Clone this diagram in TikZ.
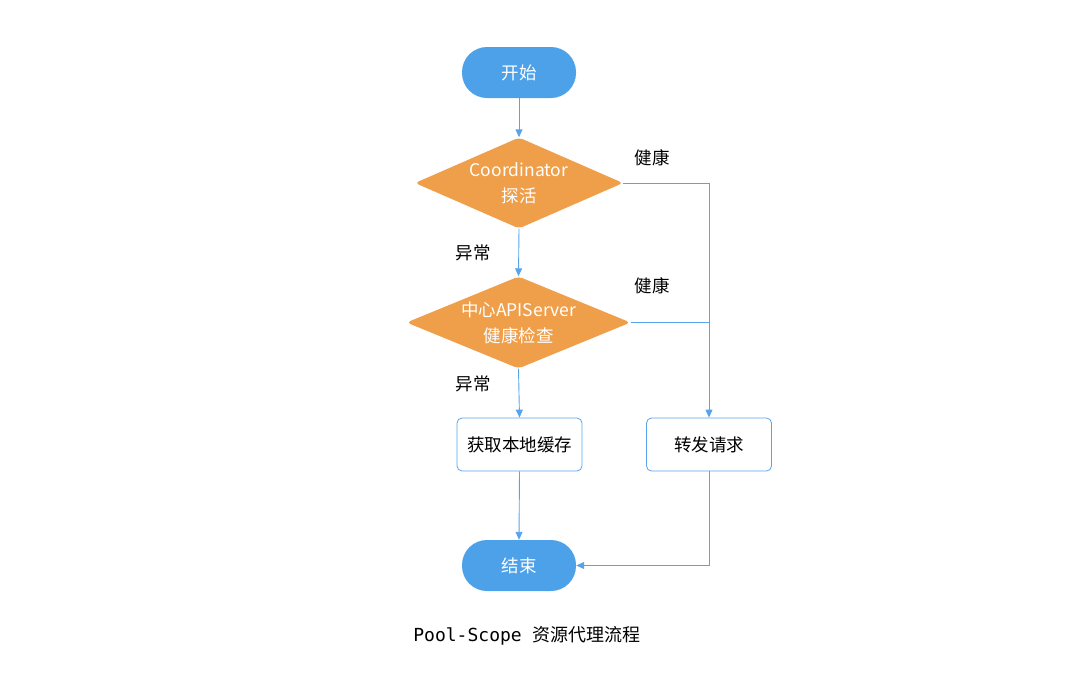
\documentclass[tikz,border=0pt]{standalone}
\usepackage{fontspec}
\setmainfont{Noto Sans CJK SC}
\newfontfamily\capmono{DejaVu Sans Mono}
\newfontfamily\capcjk{Noto Sans CJK SC}
\usetikzlibrary{shapes.geometric,arrows.meta}
\definecolor{pillblue}{RGB}{76,161,232}
\definecolor{diaorange}{RGB}{239,158,74}
\definecolor{lineblue}{RGB}{88,164,236}
\tikzset{
  pill/.style={draw=none,fill=pillblue,rounded corners=25pt,minimum width=114pt,minimum height=51pt,text=white,font=\fontsize{17.5}{20}\selectfont,inner sep=0pt},
  decision/.style={diamond,draw=none,fill=diaorange,minimum height=91pt,inner sep=0pt,aspect=2.3,rounded corners=4pt,text=white,align=center,font=\fontsize{17.5}{26}\selectfont},
  procbox/.style={draw=lineblue,line width=0.8pt,fill=white,rounded corners=5pt,minimum width=125pt,minimum height=53pt,inner sep=0pt,font=\fontsize{17.5}{20}\selectfont},
  conn/.style={draw=lineblue,line width=0.9pt},
  arr/.style={conn,-{Triangle[length=8pt,width=7pt]}},
  lbl/.style={font=\fontsize{17.5}{20}\selectfont,inner sep=0pt}
}
\begin{document}
\begin{tikzpicture}[x=1pt,y=-1pt]
\useasboundingbox (0,0) rectangle (1080,686);
\node[pill] (start) at (519,72.5) {开始};
\node[decision,minimum width=208pt] (d1) at (519,183) {Coordinator\\探活};
\node[decision,minimum width=224pt] (d2) at (518.5,322.5) {中心APIServer\\健康检查};
\node[procbox] (b1) at (519.5,444.5) {获取本地缓存};
\node[procbox] (b2) at (709,444.5) {转发请求};
\node[pill] (end) at (519,565.5) {结束};
\coordinate (j1) at (709,183);
\coordinate (j2) at (709,322.5);
\coordinate (j3) at (709,565.5);
\draw[arr] (start.south) -- (d1.north);
\draw[arr] (d1.south) -- (d2.north);
\draw[arr] (d2.south) -- (b1.north);
\draw[arr] (b1.south) -- (end.north);
\draw[conn] (d1.east) -- (j1);
\draw[arr] (j1) -- (b2.north);
\draw[conn] (d2.east) -- (j2);
\draw[arr] (b2.south) -- (j3) -- (end.east);
\node[lbl] (h1) at (652,158) {健康};
\node[lbl] (h2) at (652,286) {健康};
\node[lbl] (e1) at (473,253) {异常};
\node[lbl] (e2) at (473,384) {异常};
\node[inner sep=0pt,font=\fontsize{18}{20}\selectfont] (cap) at (527,636) {\capmono Pool-Scope \capcjk 资源代理流程};
\end{tikzpicture}
\end{document}
